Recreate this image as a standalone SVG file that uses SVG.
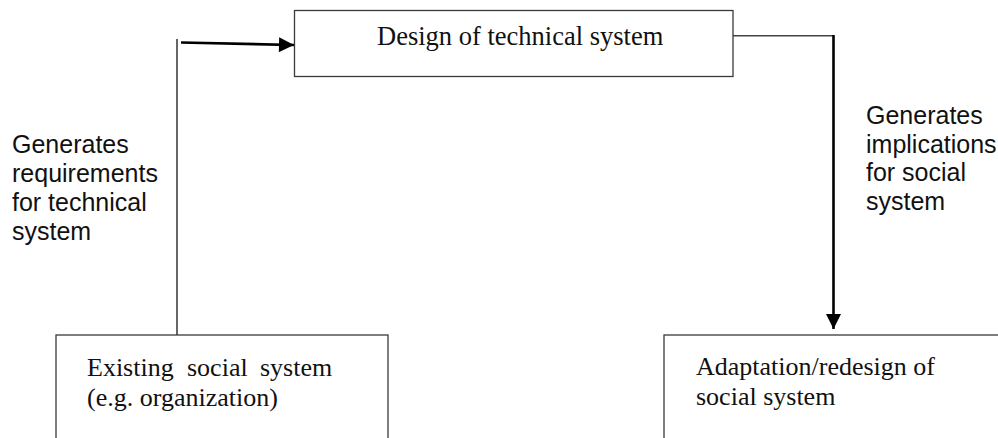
<svg xmlns="http://www.w3.org/2000/svg" width="998" height="438" viewBox="0 0 998 438">
<style>
.box{fill:#fff;stroke:#3a3a3a;stroke-width:1.3}
.serif{font-family:"Liberation Serif","Times New Roman",serif;fill:#111}
.sans{font-family:"Liberation Sans",Arial,sans-serif;fill:#111;font-size:25px}
.thick{stroke:#000;stroke-width:2.6;fill:none}
.thin{stroke:#000;stroke-width:1.2;fill:none}
</style>
<defs>
<marker id="ah" viewBox="0 0 16 16" refX="16" refY="8" markerWidth="16" markerHeight="15" orient="auto" markerUnits="userSpaceOnUse">
<path d="M0,0 L16,8 L0,16 z" fill="#000"/>
</marker>
</defs>
<rect width="998" height="438" fill="#fff"/>
<g id="connectors">
<line class="thin" x1="177" y1="39" x2="177" y2="335"/>
<line class="thick" x1="181" y1="42.5" x2="294" y2="45" marker-end="url(#ah)"/>
<path d="M733,35.7 H833.5" stroke="#444" stroke-width="1.4" fill="none"/>
<line class="thick" x1="833.5" y1="35" x2="833.5" y2="329" marker-end="url(#ah)"/>
</g>
<g id="design">
<rect class="box" x="294.5" y="10.5" width="438.5" height="66"/>
<text class="serif" x="377" y="45" font-size="26.5">Design of technical system</text>
</g>
<g id="existing">
<rect class="box" x="56" y="335" width="332" height="120"/>
<text class="serif" font-size="26"><tspan x="87" y="376">Existing</tspan><tspan x="187" y="376">social</tspan><tspan x="260" y="376">system</tspan><tspan x="87" y="406">(e.g. organization)</tspan></text>
</g>
<g id="adaptation">
<rect class="box" x="664" y="335" width="360" height="120"/>
<text class="serif" font-size="26"><tspan x="696" y="375">Adaptation/redesign of</tspan><tspan x="696" y="405">social system</tspan></text>
</g>
<g id="label-requirements">
<text class="sans"><tspan x="12" y="153">Generates</tspan><tspan x="12" y="182">requirements</tspan><tspan x="12" y="211">for technical</tspan><tspan x="12" y="240">system</tspan></text>
</g>
<g id="label-implications">
<text class="sans"><tspan x="866" y="124">Generates</tspan><tspan x="866" y="152.5">implications</tspan><tspan x="866" y="181">for social</tspan><tspan x="866" y="209.5">system</tspan></text>
</g>
</svg>
